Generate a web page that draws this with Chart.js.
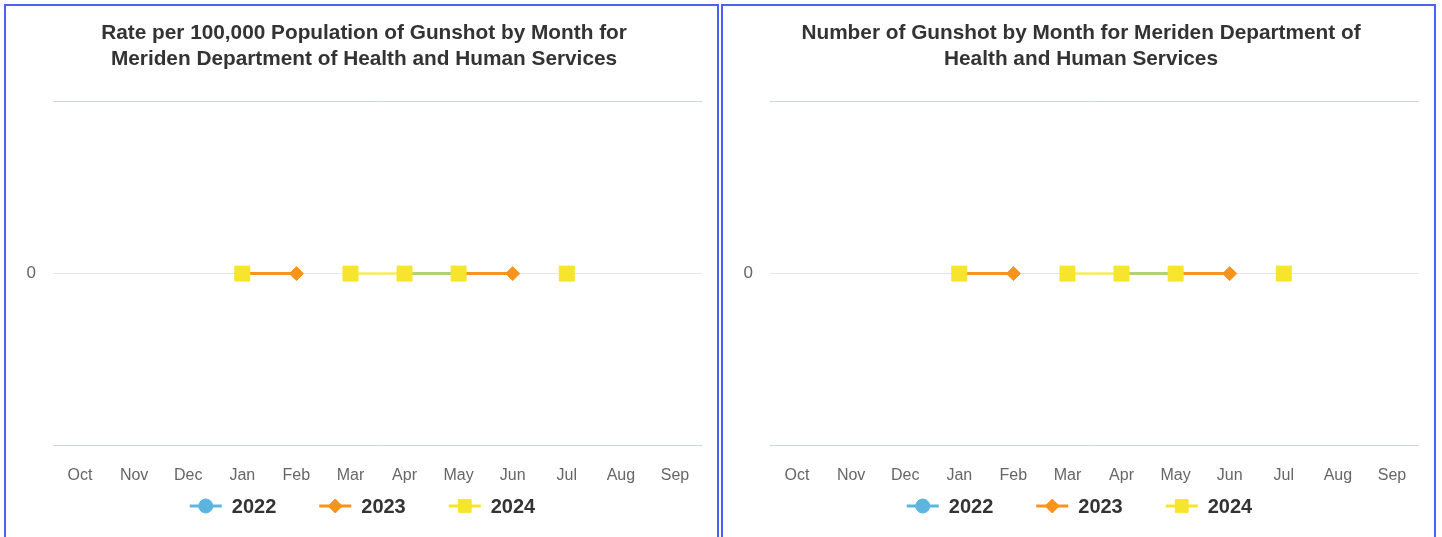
<!DOCTYPE html>
<html>
<head>
<meta charset="utf-8">
<script src="https://cdn.jsdelivr.net/npm/chart.js@4/dist/chart.umd.min.js"></script>
<style>
  html, body { margin: 0; padding: 0; background: #fff; overflow: hidden; }
  .panel {
    position: absolute;
    top: 4px;
    width: 711px;
    height: 560px;
    border: 2px solid #4a63f7;
    background: #fff;
  }
  #panelRate { left: 4px; }
  #panelCount { left: 721px; }
  .panel .box { position: relative; width: 711px; height: 530px; }
</style>
</head>
<body>
<div class="panel" id="panelRate"><div class="box"><canvas id="rateChart"></canvas></div></div>
<div class="panel" id="panelCount"><div class="box"><canvas id="countChart"></canvas></div></div>

<script>
// fiscal months, Oct -> Sep
var months = ['Oct', 'Nov', 'Dec', 'Jan', 'Feb', 'Mar', 'Apr', 'May', 'Jun', 'Jul', 'Aug', 'Sep'];
var years = ['2022', '2023', '2024'];

// rate per 100,000 (null = no report that month)
var rate2022 = [null, null, null, null, null, null, 0, 0, null, null, null, null];
var rate2023 = [null, null, null, 0, 0, null, null, 0, 0, null, null, null];
var rate2024 = [null, null, null, 0, null, 0, 0, 0, null, 0, null, null];

// number of gunshot reports
var count2022 = [null, null, null, null, null, null, 0, 0, null, null, null, null];
var count2023 = [null, null, null, 0, 0, null, null, 0, 0, null, null, null];
var count2024 = [null, null, null, 0, null, 0, 0, 0, null, 0, null, null];

var yTicks = [-1, 0, 1];

var rateTitle = ['Rate per 100,000 Population of Gunshot by Month for', 'Meriden Department of Health and Human Services'];
var countTitle = ['Number of Gunshot by Month for Meriden Department of', 'Health and Human Services'];

var FONT = '"Liberation Sans", Arial, sans-serif';

var seriesStyle = {
    '2022': { color: '#5bb5de', line: '#5bb5de', pointStyle: 'circle', radius: 6, legendRadius: 7, order: 3 },
    '2023': { color: '#f7941d', line: '#f7941d', pointStyle: 'rectRot', radius: 7, legendRadius: 7, order: 2 },
    '2024': { color: '#f6e52c', line: 'rgba(246,229,44,0.55)', pointStyle: 'rect', radius: 10.6, legendRadius: 9, order: 1 }
};

function makeDataset(year, values) {
    var s = seriesStyle[year];
    return {
        label: year,
        data: values,
        borderColor: s.line,
        backgroundColor: s.color,
        borderWidth: 3,
        pointStyle: s.pointStyle,
        pointRadius: s.radius,
        pointHoverRadius: s.radius,
        pointBackgroundColor: s.color,
        pointBorderColor: s.color,
        pointBorderWidth: 1,
        spanGaps: false,
        order: s.order
    };
}

// line + marker legend, drawn under the x axis
var lineLegend = {
    id: 'lineLegend',
    afterDraw: function(chart) {
        var ctx = chart.ctx;
        var symW = 32, gap = 10, itemGap = 43;
        ctx.save();
        ctx.font = 'bold 20px ' + FONT;
        var items = chart.data.datasets.map(function(ds) {
            return { ds: ds, w: symW + gap + ctx.measureText(ds.label).width };
        });
        var total = items.reduce(function(a, it) { return a + it.w; }, 0) + itemGap * (items.length - 1);
        var x = chart.width / 2 - total / 2 + 1;
        var y = 500;
        items.forEach(function(it) {
            var s = seriesStyle[it.ds.label];
            ctx.strokeStyle = s.color;
            ctx.lineWidth = 3;
            ctx.beginPath();
            ctx.moveTo(x, y);
            ctx.lineTo(x + symW, y);
            ctx.stroke();
            ctx.fillStyle = s.color;
            ctx.strokeStyle = s.color;
            ctx.lineWidth = 1;
            Chart.helpers.drawPoint(ctx, { pointStyle: s.pointStyle, radius: s.legendRadius, rotation: 0, borderWidth: 1 }, x + symW / 2, y);
            ctx.fillStyle = '#333';
            ctx.textAlign = 'left';
            ctx.textBaseline = 'middle';
            ctx.fillText(it.ds.label, x + symW + gap, y + 1);
            x += it.w + itemGap;
        });
        ctx.restore();
    }
};

function buildChart(id, title, s2022, s2023, s2024) {
    return new Chart(document.getElementById(id).getContext('2d'), {
        type: 'line',
        data: {
            labels: months,
            datasets: [makeDataset('2022', s2022), makeDataset('2023', s2023), makeDataset('2024', s2024)]
        },
        options: {
            responsive: true,
            maintainAspectRatio: false,
            animation: false,
            layout: { padding: { left: 5, right: 0, top: 0, bottom: 31 } },
            plugins: {
                legend: { display: false },
                tooltip: { enabled: false },
                title: {
                    display: true,
                    text: title,
                    color: '#333',
                    font: { family: FONT, size: 20.8, weight: 'bold', lineHeight: 1.26 },
                    padding: { top: 14, bottom: 29 }
                }
            },
            scales: {
                x: {
                    offset: true,
                    grid: { display: false, drawTicks: false },
                    border: { display: false },
                    ticks: { color: '#666', font: { family: FONT, size: 16 }, padding: 20, maxRotation: 0, autoSkip: false }
                },
                y: {
                    min: yTicks[0],
                    max: yTicks[yTicks.length - 1],
                    afterBuildTicks: function(scale) {
                        scale.ticks = yTicks.map(function(v) { return { value: v }; });
                    },
                    afterFit: function(scale) { scale.width = 42; },
                    grid: {
                        drawTicks: false,
                        color: function(c) { return c.tick && c.tick.value === 0 ? '#e6e6e6' : '#ccd6eb'; }
                    },
                    border: { display: false },
                    ticks: {
                        color: '#666',
                        font: { family: FONT, size: 17 },
                        padding: 17,
                        callback: function(v) { return v === 0 ? '0' : ''; }
                    }
                },
                // empty right-hand axis, only keeps a margin after the plot
                yRight: {
                    position: 'right',
                    min: yTicks[0],
                    max: yTicks[yTicks.length - 1],
                    afterFit: function(scale) { scale.width = 15; },
                    grid: { display: false, drawTicks: false },
                    border: { display: false },
                    ticks: { display: false }
                }
            }
        },
        plugins: [lineLegend]
    });
}

buildChart('rateChart', rateTitle, rate2022, rate2023, rate2024);
buildChart('countChart', countTitle, count2022, count2023, count2024);
</script>
</body>
</html>
